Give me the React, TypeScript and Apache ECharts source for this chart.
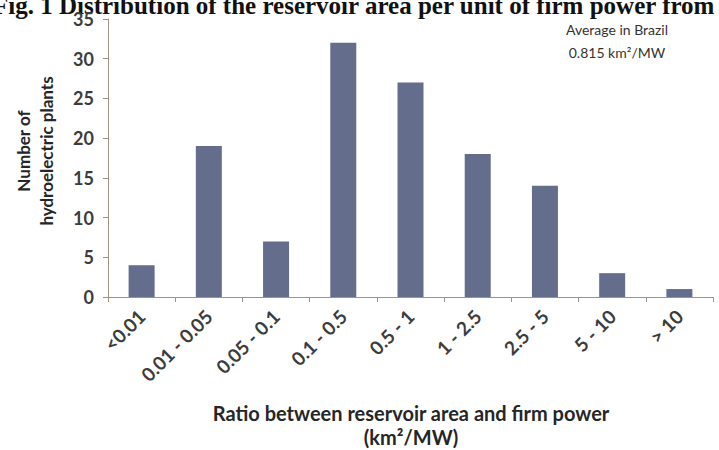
import React, { useEffect, useRef } from "react";
import * as echarts from "echarts";

const categories = ["<0.01", "0.01 - 0.05", "0.05 - 0.1", "0.1 - 0.5", "0.5 - 1", "1 - 2.5", "2.5 - 5", "5 - 10", "> 10"];
const counts = [4, 19, 7, 32, 27, 18, 14, 3, 1];
const yTicks = { min: 0, max: 35, interval: 5 };

const FONT = "Lato, 'Open Sans', sans-serif";

export default function App() {
  const ref = useRef<HTMLDivElement>(null);
  useEffect(() => {
    if (!ref.current) return;
    const chart = echarts.init(ref.current, undefined, { renderer: "svg" });
    chart.setOption({
      animation: false,
      backgroundColor: "#ffffff",
      grid: { left: 108, right: 6, top: 19, bottom: 153, containLabel: false },
      xAxis: {
        type: "category",
        data: categories,
        axisLine: { lineStyle: { color: "#a29282", width: 1 } },
        axisTick: { show: true, length: 5, lineStyle: { color: "#a29282" } },
        axisLabel: { interval: 0, rotate: 45, color: "#3c3c3c", fontSize: 19, fontWeight: "bold", fontFamily: FONT, margin: 16 },
      },
      yAxis: {
        type: "value",
        min: yTicks.min,
        max: yTicks.max,
        interval: yTicks.interval,
        splitLine: { show: false },
        axisLine: { show: true, lineStyle: { color: "#a29282", width: 1 } },
        axisTick: { show: true, length: 5, lineStyle: { color: "#a29282" } },
        axisLabel: { color: "#3c3c3c", fontSize: 18, fontWeight: "bold", fontFamily: FONT, margin: 14 },
      },
      series: [
        {
          type: "bar",
          data: counts,
          barWidth: 26,
          itemStyle: { color: "#646d8b" },
        },
      ],
      graphic: [
        {
          type: "text",
          left: -7,
          top: -7,
          style: {
            text: "Fig. 1 Distribution of the reservoir area per unit of firm power from",
            font: "bold 25px 'Liberation Serif', serif",
            fill: "#111",
          },
        },
        {
          type: "text",
          x: 35,
          y: 151,
          rotation: Math.PI / 2,
          style: {
            text: "Number of\nhydroelectric plants",
            font: `bold 17px ${FONT}`,
            fill: "#262626",
            align: "center",
            verticalAlign: "middle",
            lineHeight: 23,
          },
        },
        {
          type: "text",
          x: 617,
          y: 41,
          style: {
            text: "Average in Brazil\n0.815 km²/MW",
            font: `14px ${FONT}`,
            fill: "#333",
            align: "center",
            verticalAlign: "middle",
            lineHeight: 23,
          },
        },
        {
          type: "text",
          x: 411,
          y: 425,
          style: {
            text: "Ratio between reservoir area and firm power\n(km²/MW)",
            font: `bold 20px ${FONT}`,
            fill: "#262626",
            align: "center",
            verticalAlign: "middle",
            lineHeight: 24,
          },
        },
      ],
    });
    return () => chart.dispose();
  }, []);
  return <div ref={ref} style={{ width: 719, height: 450, position: "absolute", left: 0, top: 0 }} />;
}
